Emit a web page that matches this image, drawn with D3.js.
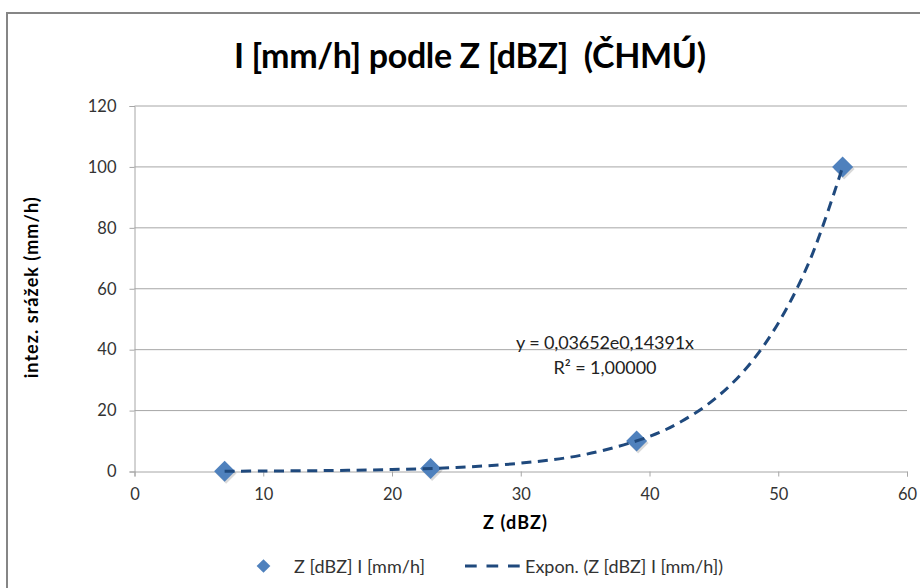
<!DOCTYPE html>
<html>
<head>
<meta charset="utf-8">
<script src="https://cdn.jsdelivr.net/npm/d3@7"></script>
<style>
  body { margin: 0; background: #fff; }
  svg { display: block; font-family: Lato, "Open Sans", sans-serif; }
</style>
</head>
<body>
<script>
// measured points
const zValues = [7, 23, 39, 55];
const intensity = [0.1, 1, 10, 100];

// dashed trend curve
const trendZ = [7, 10, 15, 20, 25, 30, 35, 40, 42.5, 45, 47.5, 50, 52.5, 55];
const trendI = [0.1, 0.15, 0.32, 0.65, 1.33, 2.74, 5.6, 11.5, 16.5, 23.6, 33.8, 48.7, 69.8, 100];

const xTicks = [0, 10, 20, 30, 40, 50, 60];
const yTicks = [0, 20, 40, 60, 80, 100, 120];

const W = 920, H = 588;
const margin = { top: 106, right: 13, bottom: 116.5, left: 134.5 },
      width = W - margin.left - margin.right,
      height = H - margin.top - margin.bottom;

const svg = d3.select("body").append("svg")
    .attr("width", W)
    .attr("height", H);

// chart frame
svg.append("path")
    .attr("d", `M7,${H} V13 H${W}`)
    .attr("fill", "none")
    .attr("stroke", "#868686")
    .attr("stroke-width", 2);

svg.append("text")
    .attr("x", 470)
    .attr("y", 68)
    .attr("text-anchor", "middle")
    .attr("textLength", 472)
    .style("font-size", "34px")
    .style("font-weight", "bold")
    .style("white-space", "pre")
    .text("I [mm/h] podle Z [dBZ]  (ČHMÚ)");

const g = svg.append("g")
    .attr("transform", `translate(${margin.left},${margin.top})`);

const x = d3.scaleLinear().domain([0, 60]).range([0, width]);
const y = d3.scaleLinear().domain([0, 120]).range([height, 0]);

// horizontal gridlines
g.selectAll(".grid")
    .data(yTicks.slice(1))
    .join("line")
    .attr("class", "grid")
    .attr("x1", 0)
    .attr("x2", width)
    .attr("y1", d => y(d))
    .attr("y2", d => y(d))
    .attr("stroke", "#a6a6a6")
    .attr("stroke-width", 1);

const yAxis = g.append("g")
    .call(d3.axisLeft(y).tickValues(yTicks).tickSize(5).tickPadding(13));
const xAxis = g.append("g")
    .attr("transform", `translate(0,${height})`)
    .call(d3.axisBottom(x).tickValues(xTicks).tickSize(5).tickPadding(12));

[xAxis, yAxis].forEach(a => {
    a.select(".domain").attr("stroke", "#a6a6a6");
    a.selectAll(".tick line").attr("stroke", "#a6a6a6");
    a.selectAll("text")
        .style("font-size", "16.5px")
        .style("font-family", "Lato, sans-serif")
        .attr("fill", "#333");
});

g.append("text")
    .attr("x", 515 - margin.left)
    .attr("y", height + 57)
    .attr("text-anchor", "middle")
    .attr("textLength", 64)
    .style("font-size", "18px")
    .style("font-weight", "bold")
    .text("Z (dBZ)");

g.append("text")
    .attr("transform", `translate(${-97},${height / 2 - 1}) rotate(-90)`)
    .attr("text-anchor", "middle")
    .attr("textLength", 181)
    .style("font-size", "18px")
    .style("font-weight", "bold")
    .text("intez. srážek (mm/h)");

// trend line
const trend = trendZ.map((z, i) => ({ z, v: trendI[i] }));
const line = d3.line()
    .x(d => x(d.z))
    .y(d => y(d.v))
    .curve(d3.curveCatmullRom);

// markers (drawn under the dashes, like the reference)
const diamond = d3.symbol().type(d3.symbolDiamond2).size(280);
const pts = zValues.map((z, i) => ({ z, v: intensity[i] }));

g.selectAll(".shadow")
    .data(pts)
    .join("path")
    .attr("class", "shadow")
    .attr("d", diamond)
    .attr("transform", d => `translate(${x(d.z) + 1.5},${y(d.v) + 2})`)
    .attr("fill", "#000")
    .attr("opacity", 0.15);

g.selectAll(".marker")
    .data(pts)
    .join("path")
    .attr("class", "marker")
    .attr("d", diamond)
    .attr("transform", d => `translate(${x(d.z)},${y(d.v)})`)
    .attr("fill", "#4f81bd");

g.append("path")
    .datum(trend)
    .attr("d", line)
    .attr("fill", "none")
    .attr("stroke", "#1f497d")
    .attr("stroke-width", 3)
    .attr("stroke-dasharray", "10,6.5");

// fit equation
const eq = g.append("text")
    .attr("text-anchor", "middle")
    .style("font-size", "18px")
    .attr("fill", "#222");
eq.append("tspan").attr("x", 605 - margin.left).attr("y", 349 - margin.top)
    .attr("textLength", 178).text("y = 0,03652e0,14391x");
eq.append("tspan").attr("x", 605 - margin.left).attr("y", 374 - margin.top)
    .attr("textLength", 103).text("R² = 1,00000");

// legend
const leg = svg.append("g").attr("transform", "translate(0,566)");
leg.append("path")
    .attr("d", d3.symbol().type(d3.symbolDiamond2).size(120))
    .attr("transform", "translate(263.5,0)")
    .attr("fill", "#4f81bd");
leg.append("text")
    .attr("x", 294).attr("y", 6.5)
    .attr("textLength", 131)
    .style("font-size", "18px").attr("fill", "#333")
    .text("Z [dBZ] I [mm/h]");
leg.append("line")
    .attr("x1", 465).attr("x2", 520)
    .attr("y1", 0).attr("y2", 0)
    .attr("stroke", "#1f497d")
    .attr("stroke-width", 3)
    .attr("stroke-dasharray", "11.7,9.8");
leg.append("text")
    .attr("x", 525).attr("y", 6.5)
    .attr("textLength", 198)
    .style("font-size", "18px").attr("fill", "#333")
    .text("Expon. (Z [dBZ] I [mm/h])");
</script>
</body>
</html>
